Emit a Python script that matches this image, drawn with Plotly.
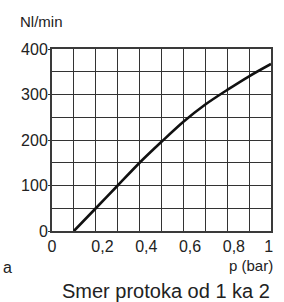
import plotly.graph_objects as go

# Data
pressure = [0.1, 0.2, 0.3, 0.4, 0.5, 0.6, 0.7, 0.8, 0.9, 1.0]
flow = [0, 50, 100, 150, 196, 240, 278, 310, 340, 367]

x_major = [0, 0.2, 0.4, 0.6, 0.8, 1.0]
x_labels = ["0", "\u00a0\u00a0\u00a00,2", "\u00a0\u00a0\u00a00,4", "\u00a0\u00a0\u00a00,6", "\u00a0\u00a0\u00a00,8", "1\u00a0"]
x_minor = [0.1, 0.3, 0.5, 0.7, 0.9]
y_major = [0, 100, 200, 300, 400]
y_labels = ["0", "100", "200", "300", "400"]
y_minor = [50, 150, 250, 350]

FONT = "Liberation Sans, Arial, sans-serif"
GRID = "#333333"

fig = go.Figure()
fig.add_trace(go.Scatter(
    x=pressure, y=flow, mode="lines",
    line=dict(color="#111111", width=2.6, shape="spline", smoothing=0.8),
    showlegend=False, hoverinfo="skip",
))

fig.update_layout(
    width=284, height=302,
    margin=dict(l=52, r=6, t=49, b=71),
    paper_bgcolor="white", plot_bgcolor="white",
    font=dict(family=FONT, size=16, color="#222222"),
    xaxis=dict(
        range=[0, 1], tickvals=x_major, ticktext=x_labels,
        showgrid=True, gridcolor=GRID, gridwidth=1.4,
        minor=dict(tickvals=x_minor, showgrid=True, gridcolor=GRID, gridwidth=1.4, ticks=""),
        showline=True, linecolor="#3a3a3a", linewidth=2, mirror=True,
        ticks="", zeroline=False, tickfont=dict(size=16, family=FONT, color="#222"),
        fixedrange=True,
    ),
    yaxis=dict(
        range=[0, 400], tickvals=y_major, ticktext=y_labels,
        showgrid=True, gridcolor=GRID, gridwidth=1.4,
        minor=dict(tickvals=y_minor, showgrid=True, gridcolor=GRID, gridwidth=1.4, ticks=""),
        showline=True, linecolor="#3a3a3a", linewidth=2, mirror=True,
        ticks="outside", ticklen=2, tickcolor=GRID, tickwidth=1.4,
        ticklabelstandoff=-3,
        zeroline=False, tickfont=dict(size=16, family=FONT, color="#222"),
        fixedrange=True,
    ),
    annotations=[
        dict(text="Nl/min", xref="paper", yref="paper", x=(17 - 52) / 226, y=1 + (49 - 21) / 182,
             xanchor="left", yanchor="middle", showarrow=False, font=dict(size=15, family=FONT, color="#222")),
        dict(text="p (bar)", xref="paper", yref="paper", x=(282 - 52) / 226, y=-(265 - 231) / 182,
             xanchor="right", yanchor="middle", showarrow=False, font=dict(size=15, family=FONT, color="#222")),
        dict(text="Smer protoka od 1 ka 2", xref="paper", yref="paper", x=(169.5 - 52) / 226, y=-(291 - 231) / 182,
             xanchor="center", yanchor="middle", showarrow=False, font=dict(size=20, family=FONT, color="#222")),
        dict(text="a", xref="paper", yref="paper", x=(-1 - 52) / 226, y=-(267 - 231) / 182,
             xanchor="left", yanchor="middle", showarrow=False, font=dict(size=16, family=FONT, color="#222")),
    ],
)

fig.write_html(
    "out.html",
    config={"displayModeBar": False},
    post_script="document.body.style.margin='0';document.body.style.overflow='hidden';",
)
